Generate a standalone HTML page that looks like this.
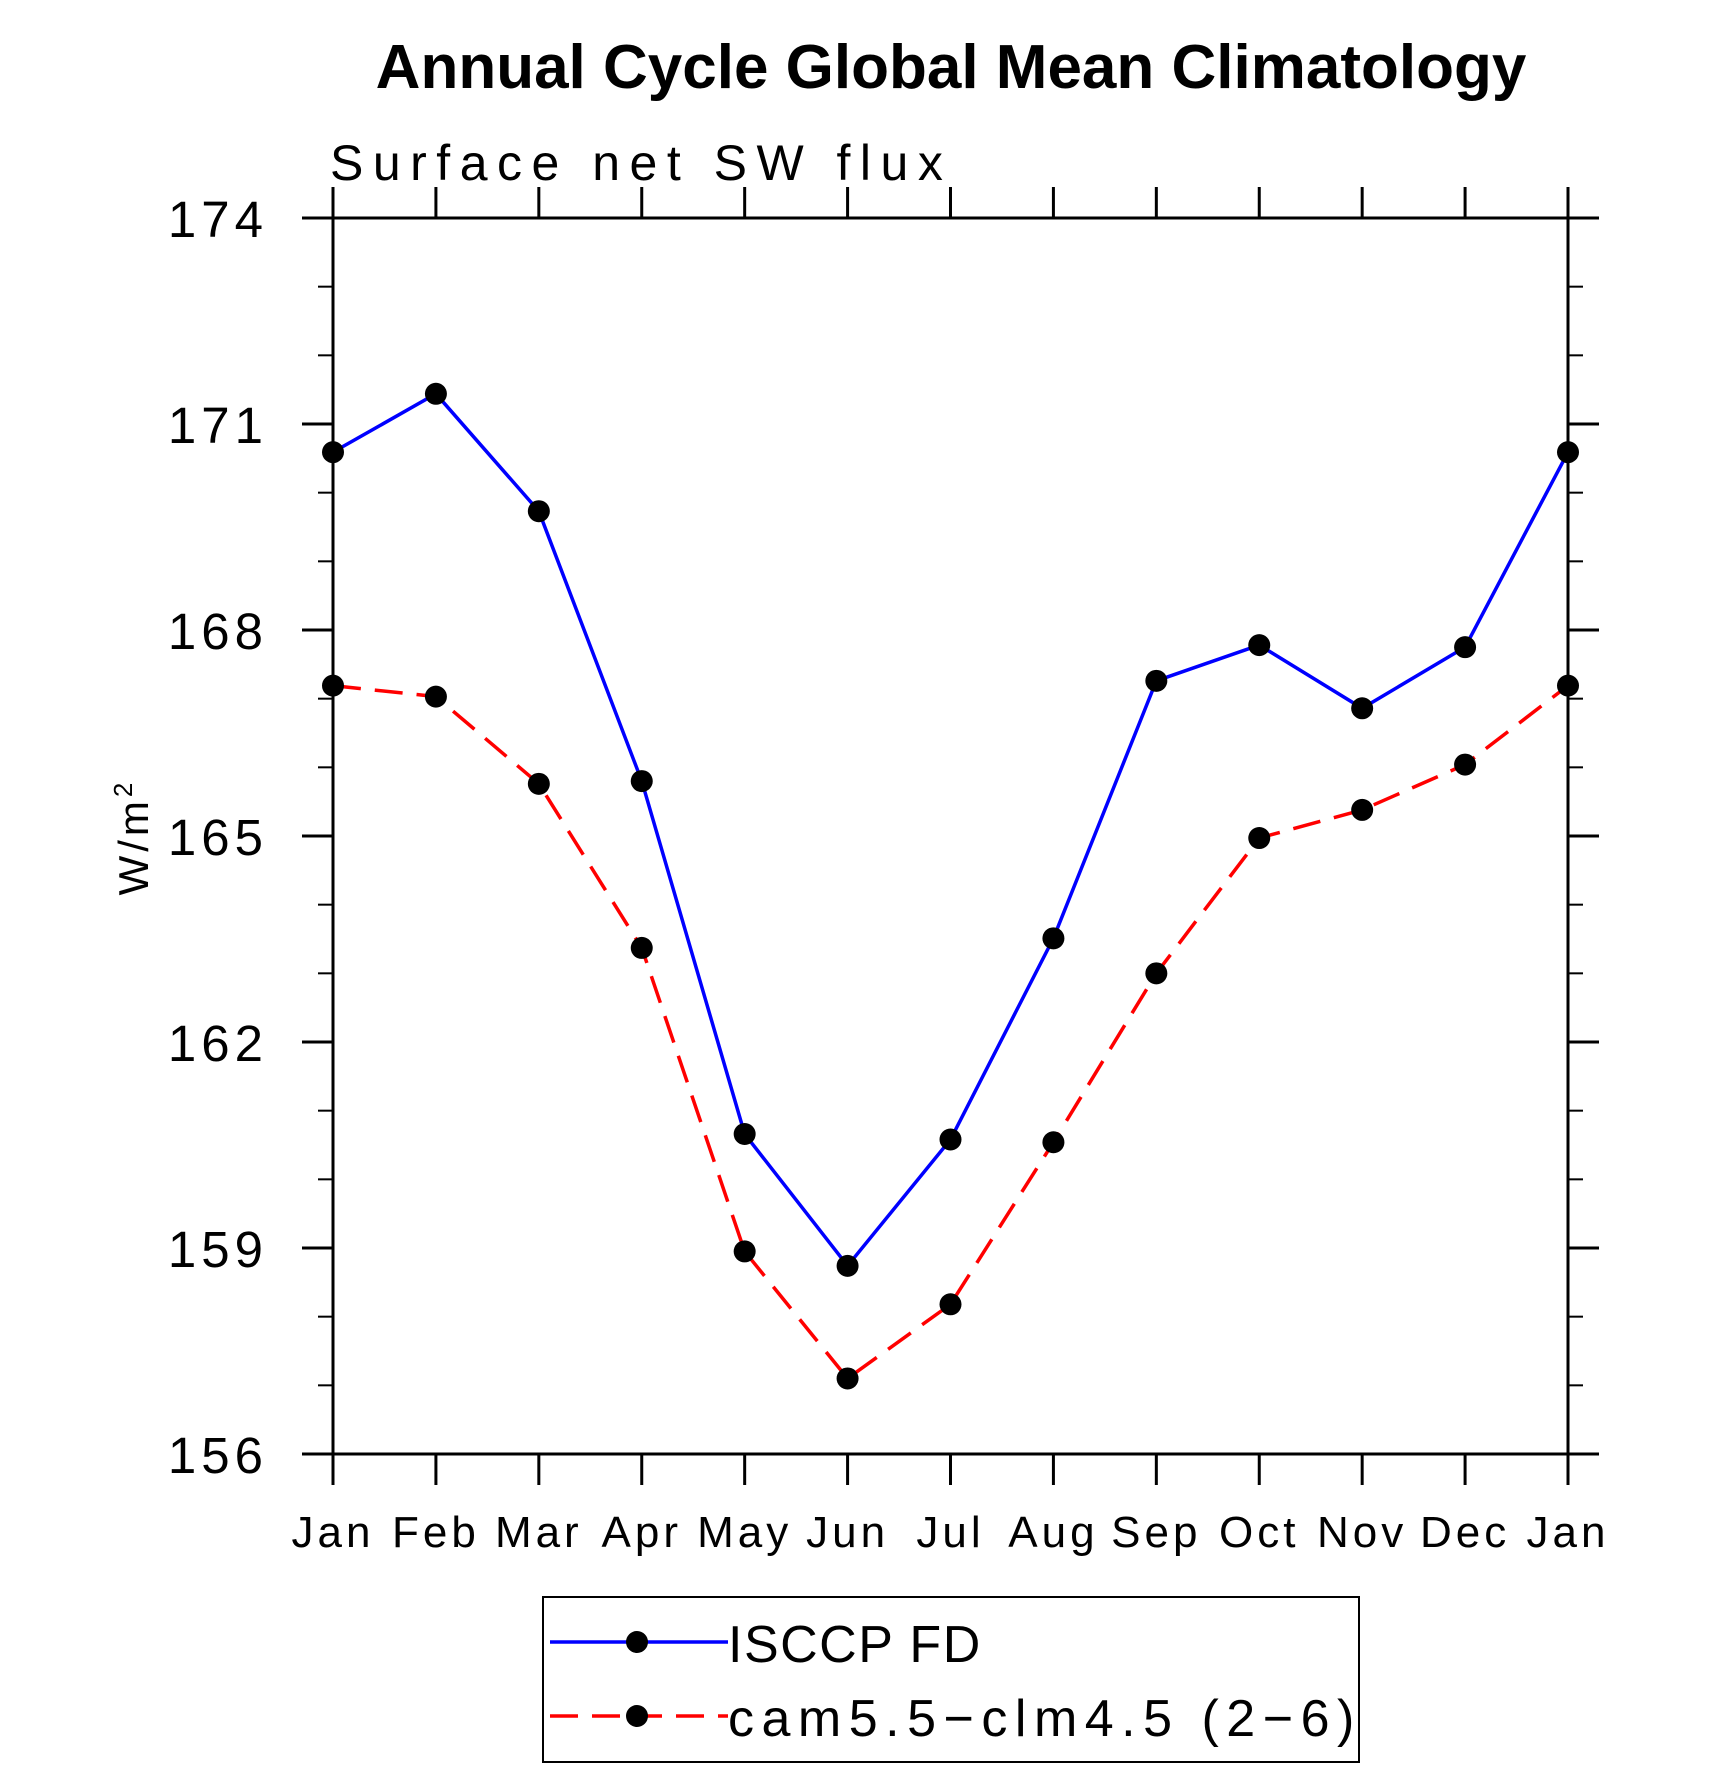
<!DOCTYPE html>
<html><head><meta charset="utf-8"><style>
html,body{margin:0;padding:0;background:#fff;}
svg{display:block;}
text{font-family:"Liberation Sans",sans-serif;}
</style></head><body>
<svg id="chart" width="1710" height="1767" viewBox="0 0 1710 1767" xmlns="http://www.w3.org/2000/svg">
<text x="951" y="88" font-size="62" font-weight="bold" text-anchor="middle">Annual Cycle Global Mean Climatology</text>
<text x="330" y="180" font-size="50" letter-spacing="9.5" font-weight="300">Surface net SW flux</text>
<text transform="translate(148,837) rotate(-90)" font-size="42" text-anchor="middle" letter-spacing="4">W/m<tspan font-size="26" dy="-16">2</tspan></text>
<g id="axes"></g>
<g id="series"></g>
<rect x="543" y="1597" width="816" height="165" fill="none" stroke="#000" stroke-width="2"/>
<g>
<line x1="550" y1="1642" x2="728" y2="1642" stroke="#0000ff" stroke-width="3.5"/>
<circle cx="637" cy="1642" r="11" fill="#000"/>
<text x="728" y="1662" font-size="52" letter-spacing="1.5">ISCCP FD</text>
</g>
<g>
<line x1="550" y1="1716" x2="728" y2="1716" stroke="#ff0000" stroke-width="3.5" stroke-dasharray="28,14"/>
<circle cx="637" cy="1716" r="11" fill="#000"/>
<text x="728" y="1736" font-size="52" letter-spacing="7.5">cam5.5−clm4.5 (2−6)</text>
</g>
</svg>
<script>
const months = ["Jan","Feb","Mar","Apr","May","Jun","Jul","Aug","Sep","Oct","Nov","Dec","Jan"];
const isccpValues = [170.59,171.44,169.73,165.80,160.66,158.74,160.58,163.51,167.26,167.78,166.86,167.75,170.59];
const camValues = [167.19,167.03,165.76,163.37,158.95,157.10,158.18,160.54,163.00,164.97,165.38,166.04,167.19];
const yTicks = [156,159,162,165,168,171,174];

const NS="http://www.w3.org/2000/svg";
const L=333,R=1568,T=218,B=1454,ymin=156,ymax=174;
const xs=i=>L+(R-L)*i/(months.length-1);
const ys=v=>B-(B-T)*(v-ymin)/(ymax-ymin);
function mk(tag,attrs,parent){const e=document.createElementNS(NS,tag);for(const k in attrs)e.setAttribute(k,attrs[k]);parent.appendChild(e);return e;}
const ax=document.getElementById('axes');
const frame=mk('rect',{x:L,y:T,width:R-L,height:B-T,fill:'none',stroke:'#000','stroke-width':3},ax);


months.forEach((m,i)=>{
  const x=xs(i);
  const t1=mk('line',{x1:x,y1:B,x2:x,y2:B+31,stroke:'#000','stroke-width':3},ax);
  
  
  const t2=mk('line',{x1:x,y1:T,x2:x,y2:T-31,stroke:'#000','stroke-width':3},ax);
  
  
  const tx=mk('text',{x:x,y:1547,'font-size':44,'text-anchor':'middle','letter-spacing':4},ax);
  tx.textContent=m;
  
  
});
for(let v=ymin;v<=ymax;v++){
  const y=ys(v);const major=yTicks.includes(v);const len=major?31:15;
  const a=mk('line',{x1:L-len,y1:y,x2:L,y2:y,stroke:'#000','stroke-width':major?3:2},ax);
  
  
  const b=mk('line',{x1:R,y1:y,x2:R+len,y2:y,stroke:'#000','stroke-width':major?3:2},ax);
  
  
}
yTicks.forEach(v=>{
  const tx=mk('text',{x:268,y:ys(v)+19,'font-size':51,'text-anchor':'end','letter-spacing':5},ax);
  tx.textContent=v;
  
  
});
const sg=document.getElementById('series');
function series(vals,color,dash,name){
  const pts=vals.map((v,i)=>xs(i)+','+ys(v)).join(' ');
  const attrs={points:pts,fill:'none',stroke:color,'stroke-width':3.5};
  if(dash)attrs['stroke-dasharray']=dash;
  const pl=mk('polyline',attrs,sg);
  
  
  vals.forEach((v,i)=>{
    const c=mk('circle',{cx:xs(i),cy:ys(v),r:11,fill:'#000'},sg);
    
    
  });
}
series(isccpValues,'#0000ff',null,'isccp');
series(camValues,'#ff0000','28,14','cam');
</script>
</body></html>
